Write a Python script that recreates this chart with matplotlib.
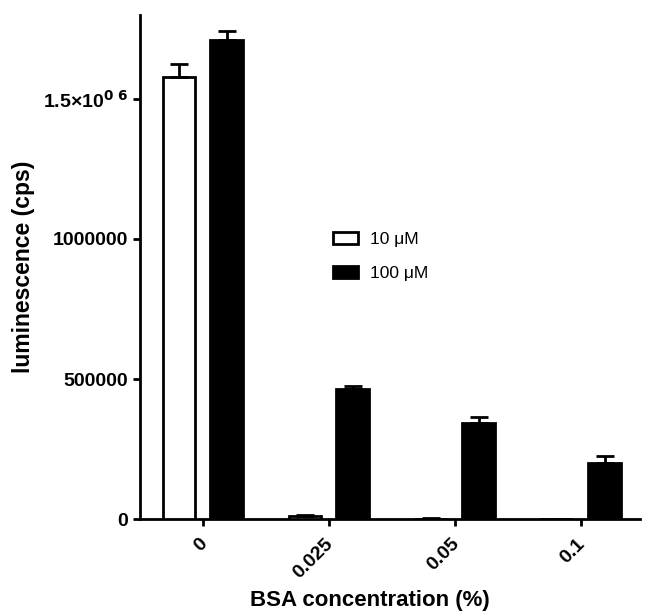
import matplotlib
matplotlib.use("Agg")
import matplotlib.pyplot as plt
import matplotlib.transforms as mtrans
import numpy as np

categories = ["0", "0.025", "0.05", "0.1"]
series_names = ["10 μM", "100 μM"]
vals_10 = [1579000, 11000, 2500, 1500]
err_10 = [46000, 5000, 1000, 500]
vals_100 = [1711000, 463000, 342000, 200000]
err_100 = [31000, 12000, 24000, 25000]
ytick_vals = [0, 500000, 1000000, 1500000]
ytick_labels = ["0", "500000", "1000000", "1.5×10$^{0\\ 6}$"]

plt.rcParams['font.family'] = ['Liberation Sans', 'DejaVu Sans']
plt.rcParams['mathtext.default'] = 'bf'
fig = plt.figure(figsize=(6.45, 6.13), dpi=100)
ax = fig.add_axes([0.217, 0.153, 0.775, 0.823])

x = np.arange(len(categories))
w = 0.26
off = 0.19
ax.bar(x - off, vals_10, w, color='white', edgecolor='black', linewidth=2,
       yerr=[np.zeros(4), err_10], error_kw=dict(ecolor='black', elinewidth=2, capsize=6.5, capthick=2),
       label=series_names[0], zorder=3)
ax.bar(x + off, vals_100, w, color='black', edgecolor='black', linewidth=2,
       yerr=[np.zeros(4), err_100], error_kw=dict(ecolor='black', elinewidth=2, capsize=6.5, capthick=2),
       label=series_names[1], zorder=3)

ax.set_xlim(-0.5, 3.47)
ax.set_ylim(0, 1.8e6)
ax.set_xticks(x)
ax.set_xticklabels([""] * len(categories))
base = mtrans.blended_transform_factory(ax.transData, ax.transAxes)
shift = mtrans.ScaledTranslation(-4/100, -16/100, fig.dpi_scale_trans)
for xi, cat in zip(x, categories):
    ax.text(xi, 0, cat, transform=base + shift, rotation=45, ha='right', va='top',
            rotation_mode='anchor', fontsize=14, fontweight='bold', clip_on=False)
ax.set_yticks(ytick_vals)
ax.set_yticklabels(ytick_labels, fontsize=14, fontweight='bold')
for s in ['top', 'right']:
    ax.spines[s].set_visible(False)
for s in ['left', 'bottom']:
    ax.spines[s].set_linewidth(2)
ax.tick_params(axis='both', width=2, length=5, direction='out')
ax.set_xlabel("BSA concentration (%)", fontsize=16, fontweight='bold')
ax.xaxis.set_label_coords(0.46, -0.141)
ax.set_ylabel("luminescence (cps)", fontsize=16.5, fontweight='bold', labelpad=6)

leg = ax.legend(loc='upper left', bbox_to_anchor=(0.354, 0.6), frameon=False,
                fontsize=12.5, labelspacing=1.05, handlelength=1.45, handleheight=0.7,
                handletextpad=0.7)

fig.savefig("out.png", dpi=100)
